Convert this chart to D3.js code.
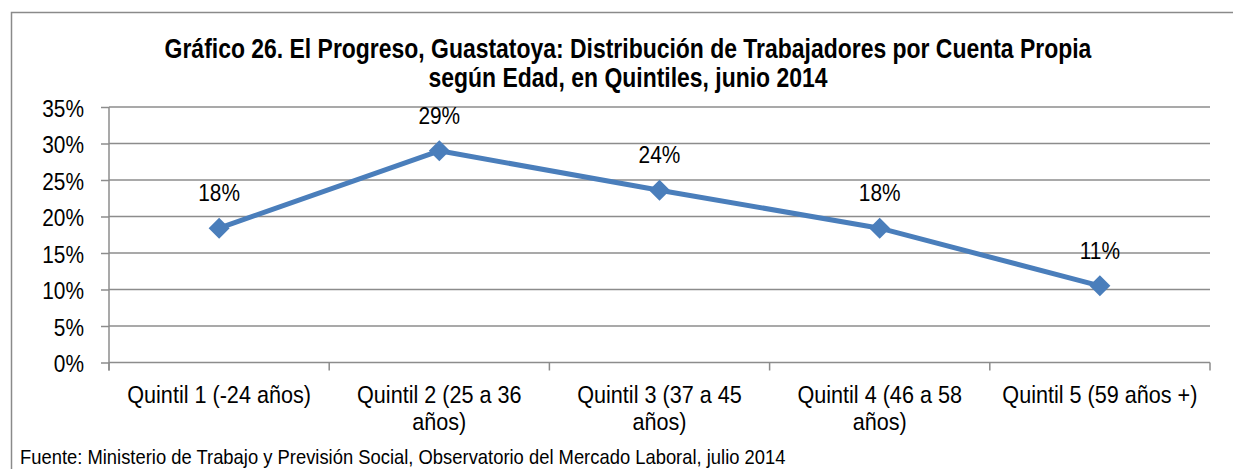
<!DOCTYPE html>
<html>
<head>
<meta charset="utf-8">
<script src="https://cdn.jsdelivr.net/npm/d3@7"></script>
<style>
  body { margin: 0; background: #fff; }
  svg text { font-family: "Liberation Sans Narrow", "Arial Narrow", "Liberation Sans", Arial, sans-serif; fill: #000; }
</style>
</head>
<body>
<svg id="chart" width="1233" height="469"></svg>
<script>
// chart data
var categories = ["Quintil 1 (-24 años)", "Quintil 2 (25 a 36 años)", "Quintil 3 (37 a 45 años)",
                  "Quintil 4 (46 a 58 años)", "Quintil 5 (59 años +)"];
var values = [0.184, 0.290, 0.236, 0.184, 0.105];
var valueLabels = ["18%", "29%", "24%", "18%", "11%"];
var yTicks = [0, 0.05, 0.10, 0.15, 0.20, 0.25, 0.30, 0.35];
var titleLines = ["Gráfico 26. El Progreso, Guastatoya: Distribución de Trabajadores por Cuenta Propia",
                  "según Edad, en Quintiles, junio 2014"];
var source = "Fuente: Ministerio de Trabajo y Previsión Social, Observatorio del Mercado Laboral, julio 2014";

var svg = d3.select("#chart");
var blue = "#4a7ebb";
var grid = "#8c8c8c";

// no narrow font installed, so squeeze the glyphs sideways around their anchor
function squeeze(sel, sx) {
  sel.attr("transform", function() {
    var t = d3.select(this);
    var x0 = +t.attr("x") || 0, y0 = +t.attr("y") || 0;
    return "translate(" + x0 + "," + y0 + ") scale(" + sx + ",1) translate(" + (-x0) + "," + (-y0) + ")";
  });
}

// outer frame (runs off the right and bottom edge)
svg.append("rect")
  .attr("x", 11.5).attr("y", 12.5)
  .attr("width", 1240).attr("height", 480)
  .attr("fill", "none").attr("stroke", "#8a8a8a").attr("stroke-width", 1.5);

var m = {left: 109, right: 1210, top: 107, bottom: 362.5};

var x = d3.scaleBand().domain(categories).range([m.left, m.right]);
var y = d3.scaleLinear().domain([0, 0.35]).range([m.bottom, m.top]);

// title
var title = svg.append("text")
  .attr("x", 628).attr("y", 58)
  .attr("text-anchor", "middle")
  .attr("font-weight", "bold")
  .attr("font-size", 27);
title.selectAll("tspan").data(titleLines).enter().append("tspan")
  .attr("x", 628)
  .attr("y", function(d, i) { return 58 + i * 29; })
  .text(function(d) { return d; });
squeeze(title, 0.85);

// gridlines
svg.append("g").selectAll("line").data(yTicks.slice(1)).enter().append("line")
  .attr("x1", m.left).attr("x2", m.right)
  .attr("y1", function(d) { return y(d); })
  .attr("y2", function(d) { return y(d); })
  .attr("stroke", grid).attr("stroke-width", 1.5);

// y axis
var yAxis = svg.append("g")
  .attr("transform", "translate(" + m.left + ",0)")
  .call(d3.axisLeft(y).tickValues(yTicks).tickFormat(d3.format(".0%")).tickSize(8).tickPadding(17));
yAxis.select(".domain").attr("d", "M0," + m.top + "V" + (m.bottom + 8));
yAxis.selectAll("line, path").attr("stroke", grid).attr("stroke-width", 1.5);
yAxis.selectAll("text").attr("font-size", 23.7).attr("font-family", null).attr("dy", "0.38em");
squeeze(yAxis.selectAll("text"), 0.88);

// x axis
var xAxis = svg.append("g")
  .attr("transform", "translate(0," + m.bottom + ")");
xAxis.append("line")
  .attr("x1", m.left).attr("x2", m.right)
  .attr("stroke", grid).attr("stroke-width", 1.5);
var bounds = categories.map(function(c) { return x(c); }).concat([m.right]);
xAxis.selectAll(".tk").data(bounds).enter().append("line")
  .attr("x1", function(d) { return d; }).attr("x2", function(d) { return d; })
  .attr("y1", 0).attr("y2", 8)
  .attr("stroke", grid).attr("stroke-width", 1.5);

// category labels, wrapped to the band width
var catSx = 0.9;
var catText = xAxis.selectAll(".cat").data(categories).enter().append("text")
  .attr("class", "cat")
  .attr("text-anchor", "middle")
  .attr("font-size", 24)
  .attr("x", function(d) { return x(d) + x.bandwidth() / 2; })
  .attr("y", 40.5);

catText.each(function(d) {
  var t = d3.select(this);
  var cx = +t.attr("x");
  var words = d.split(" ");
  var line = [];
  var tspan = t.append("tspan").attr("x", cx).attr("dy", 0);
  words.forEach(function(w) {
    line.push(w);
    tspan.text(line.join(" "));
    if (tspan.node().getComputedTextLength() * catSx > 205 && line.length > 1) {
      line.pop();
      tspan.text(line.join(" "));
      line = [w];
      tspan = t.append("tspan").attr("x", cx).attr("dy", 27).text(w);
    }
  });
});
squeeze(catText, catSx);

// line
var lineGen = d3.line()
  .x(function(d, i) { return x(categories[i]) + x.bandwidth() / 2; })
  .y(function(d) { return y(d); });

svg.append("path")
  .datum(values)
  .attr("d", lineGen)
  .attr("fill", "none")
  .attr("stroke", blue)
  .attr("stroke-width", 5)
  .attr("stroke-linejoin", "round");

// diamond markers
svg.selectAll(".pt").data(values).enter().append("path")
  .attr("class", "pt")
  .attr("d", "M0,-10.5L10.5,0L0,10.5L-10.5,0Z")
  .attr("transform", function(d, i) {
    return "translate(" + (x(categories[i]) + x.bandwidth() / 2) + "," + y(d) + ")";
  })
  .attr("fill", blue);

// data labels
var lbl = svg.selectAll(".lbl").data(values).enter().append("text")
  .attr("class", "lbl")
  .attr("text-anchor", "middle")
  .attr("font-size", 23.7)
  .attr("x", function(d, i) { return x(categories[i]) + x.bandwidth() / 2; })
  .attr("y", function(d) { return y(d) - 27; })
  .text(function(d, i) { return valueLabels[i]; });
squeeze(lbl, 0.88);

// source note
var src = svg.append("text")
  .attr("x", 20).attr("y", 464)
  .attr("font-size", 20)
  .text(source);
squeeze(src, 0.92);
</script>
</body>
</html>
